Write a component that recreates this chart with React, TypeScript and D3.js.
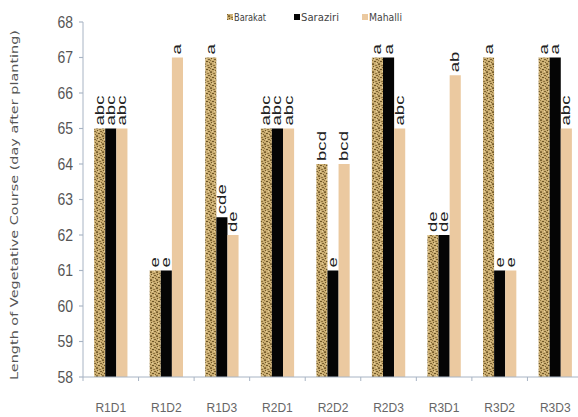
import React from "react";
import * as d3 from "d3";

const categories = ["R1D1", "R1D2", "R1D3", "R2D1", "R2D2", "R2D3", "R3D1", "R3D2", "R3D3"];
const seriesNames = ["Barakat", "Saraziri", "Mahalli"];
const barakat = [65, 61, 67, 65, 64, 67, 62, 67, 67];
const saraziri = [65, 61, 62.5, 65, 61, 67, 62, 61, 67];
const mahalli = [65, 67, 62, 65, 64, 65, 66.5, 61, 65];
const barakatLetters = ["abc", "e", "a", "abc", "bcd", "a", "de", "a", "a"];
const saraziriLetters = ["abc", "e", "cde", "abc", "e", "a", "de", "e", "a"];
const mahalliLetters = ["abc", "a", "de", "abc", "bcd", "abc", "ab", "e", "abc"];
const yTicks = [58, 59, 60, 61, 62, 63, 64, 65, 66, 67, 68];

const W = 578;
const H = 417;
const plot = { left: 83, right: 583, top: 22, bottom: 377 };

export default function App() {
  const x = d3
    .scaleBand<string>()
    .domain(categories)
    .range([plot.left, plot.right])
    .paddingInner(0.4)
    .paddingOuter(0.2);
  const xi = d3.scaleBand<string>().domain(seriesNames).range([0, x.bandwidth()]);
  const y = d3.scaleLinear().domain([58, 68]).range([plot.bottom, plot.top]);

  const series = [
    { name: "Barakat", values: barakat, letters: barakatLetters, fill: "url(#barakatTex)" },
    { name: "Saraziri", values: saraziri, letters: saraziriLetters, fill: "#050505" },
    { name: "Mahalli", values: mahalli, letters: mahalliLetters, fill: "#ebc9a0" },
  ];

  const step = x.step();
  const boundaries = d3.range(categories.length + 1).map((i) => plot.left + i * step);

  const legendItems = [
    { name: "Barakat", x: 227, len: 32, fill: "url(#barakatTex)" },
    { name: "Saraziri", x: 294, len: 38, fill: "#050505" },
    { name: "Mahalli", x: 362, len: 33, fill: "#ebc9a0" },
  ];

  return (
    <svg width={W} height={H} style={{ position: "absolute", left: 0, top: 0, background: "#fff" }}>
      <defs>
        <pattern id="barakatTex" patternUnits="userSpaceOnUse" width="6" height="8">
          <rect width="6" height="8" fill="#cbae72" />
          <rect x="0" y="0" width="2" height="1" fill="#7a6130" />
          <rect x="3" y="1" width="2" height="1" fill="#8f7440" />
          <rect x="1" y="2" width="1" height="1" fill="#6b5426" />
          <rect x="4" y="3" width="2" height="1" fill="#7a6130" />
          <rect x="0" y="4" width="1" height="1" fill="#8f7440" />
          <rect x="2" y="5" width="2" height="1" fill="#6b5426" />
          <rect x="5" y="6" width="1" height="1" fill="#7a6130" />
          <rect x="0" y="7" width="2" height="1" fill="#8f7440" />
          <rect x="2" y="3" width="1" height="1" fill="#e4cf9c" />
          <rect x="4" y="7" width="1" height="1" fill="#e4cf9c" />
        </pattern>
      </defs>

      {/* y axis */}
      <line x1={plot.left} x2={plot.left} y1={plot.top} y2={plot.bottom} stroke="#a8b4c4" strokeWidth={1} />
      {yTicks.map((t) => (
        <g key={t} transform={`translate(${plot.left - 10},${y(t)}) scale(1,1.15)`}>
          <line x1={6} x2={10} y1={0} y2={0} stroke="#a8b4c4" />
          <text
            x={0}
            y={0}
            dy="0.35em"
            textAnchor="end"
            fontFamily="'Liberation Sans', Arial, sans-serif"
            fontSize={14}
            fill="#555"
          >
            {t}
          </text>
        </g>
      ))}

      {/* bars */}
      {series.map((s) =>
        categories.map((c, i) => {
          const bx = (x(c) as number) + (xi(s.name) as number);
          const v = s.values[i];
          return (
            <rect
              key={s.name + c}
              x={bx}
              y={y(v)}
              width={xi.bandwidth()}
              height={y(58) - y(v)}
              fill={s.fill}
            />
          );
        })
      )}

      {/* significance letters */}
      {series.map((s) =>
        categories.map((c, i) => {
          const cx = (x(c) as number) + (xi(s.name) as number) + xi.bandwidth() / 2;
          const v = s.values[i];
          return (
            <g key={"l" + s.name + c} transform={`translate(${cx + 4},${y(v) - 3}) scale(1,1.55) rotate(-90)`}>
              <text
                x={0}
                y={0}
                fontFamily="'Liberation Sans', Arial, sans-serif"
                fontSize={12}
                fill="#222"
              >
                {s.letters[i]}
              </text>
            </g>
          );
        })
      )}

      {/* x axis */}
      <line x1={plot.left} x2={plot.right} y1={plot.bottom} y2={plot.bottom} stroke="#a8b4c4" />
      {boundaries.map((b, i) => (
        <line key={i} x1={b} x2={b} y1={plot.bottom} y2={plot.bottom + 4} stroke="#a8b4c4" />
      ))}
      {categories.map((c) => (
        <text
          key={c}
          x={(x(c) as number) + x.bandwidth() / 2}
          y={412}
          textAnchor="middle"
          fontFamily="'Liberation Sans', Arial, sans-serif"
          fontSize={12}
          fill="#666"
        >
          {c}
        </text>
      ))}

      {/* y axis title */}
      <text
        transform={`translate(18,${205}) rotate(-90)`}
        textAnchor="middle"
        fontFamily="'DejaVu Sans', sans-serif"
        fontSize={11}
        textLength={350}
        lengthAdjust="spacingAndGlyphs"
        fill="#555"
      >
        Length of Vegetative Course (day after planting)
      </text>

      {/* legend */}
      {legendItems.map((l) => (
        <g key={l.name}>
          <rect x={l.x} y={14} width={6} height={6} fill={l.fill} />
          <text
            x={l.x + 7}
            y={21}
            fontFamily="'DejaVu Sans Condensed', 'DejaVu Sans', sans-serif"
            fontSize={11}
            textLength={l.len}
            lengthAdjust="spacingAndGlyphs"
            fill="#444"
          >
            {l.name}
          </text>
        </g>
      ))}
    </svg>
  );
}
